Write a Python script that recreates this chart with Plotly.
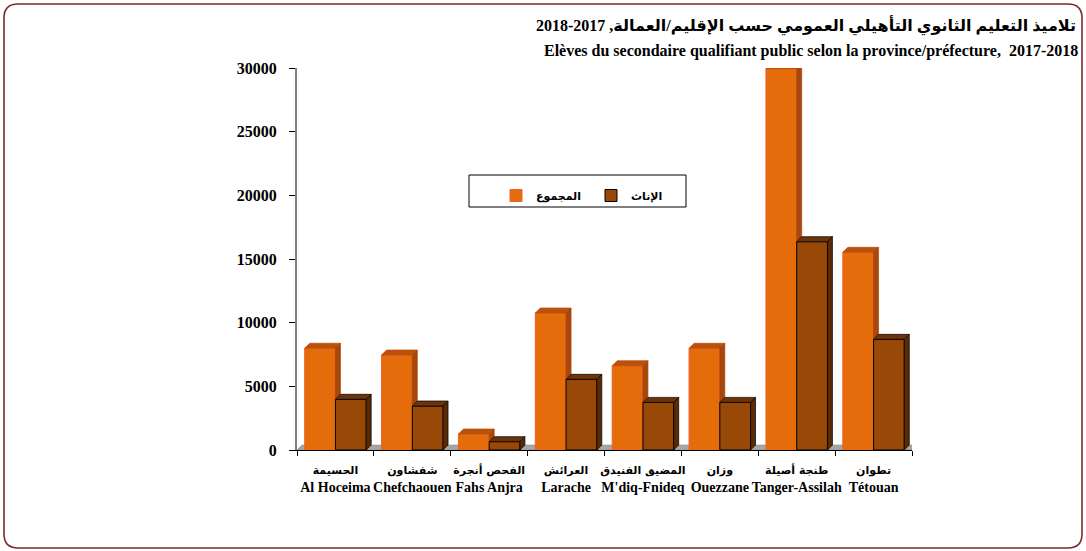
import plotly.graph_objects as go

# ---------------- data ----------------
categories_ar = ["الحسيمة", "شفشاون", "الفحص أنجرة", "العرائش", "المضيق الفنيدق", "وزان", "طنجة أصيلة", "تطوان"]
categories_fr = ["Al Hoceima", "Chefchaouen", "Fahs Anjra", "Larache", "M'diq-Fnideq", "Ouezzane", "Tanger-Assilah", "Tétouan"]
total_values = [7990, 7460, 1256, 10760, 6620, 7985, 29950, 15525]
female_values = [3980, 3455, 655, 5550, 3740, 3740, 16360, 8690]
series_names = ["المجموع", "الإناث"]
y_tick_values = [0, 5000, 10000, 15000, 20000, 25000, 30000]
title_ar = "\u202Bتلاميذ التعليم الثانوي التأهيلي العمومي حسب الإقليم/العمالة, 2017-2018\u202C"
title_fr = "Elèves du secondaire qualifiant public selon la province/préfecture,  2017-2018"

# ---------------- geometry (pixels) ----------------
W, H = 1086, 551
L, R, T, B = 297, 174, 68, 101
plot_w = W - L - R
plot_h = H - T - B
n = len(categories_fr)
y_max = 30000
x_lo, x_hi = -0.5, n - 0.5
cat_per_px = (x_hi - x_lo) / plot_w
val_per_px = y_max / plot_h
depth_px = 5
dx = depth_px * cat_per_px
dy = depth_px * val_per_px
bar_w = 0.4

idx = list(range(n))
ticktext = [f"<span style='font-family:DejaVu Sans;font-size:11px'>{a}</span><br>{f}"
            for a, f in zip(categories_ar, categories_fr)]

ORANGE = "#E46C0A"
ORANGE_TOP = "#B9520A"
ORANGE_SIDE = "#A5480A"
BROWN = "#984807"
BROWN_TOP = "#6E3306"
BROWN_SIDE = "#5A2A04"

fig = go.Figure()
fig.add_trace(go.Bar(x=idx, y=total_values, offset=-bar_w, width=bar_w, name=series_names[0],
                     marker=dict(color=ORANGE, line=dict(color="#F0602A", width=1))))
fig.add_trace(go.Bar(x=idx, y=female_values, offset=0, width=bar_w, name=series_names[1],
                     marker=dict(color=BROWN, line=dict(color="#000000", width=1))))


def faces(x0, x1, v, lower):
    top_x = [x0, x0 + dx, x1 + dx, x1, x0, None]
    top_y = [v, v + dy, v + dy, v, v, None]
    side_x = [x1, x1 + dx, x1 + dx, x1, x1, None]
    side_y = [lower[0], lower[1], v + dy, v, lower[0], None]
    return top_x, top_y, side_x, side_y


ot_x, ot_y, os_x, os_y = [], [], [], []
bt_x, bt_y, bs_x, bs_y = [], [], [], []
for i in idx:
    v, b = total_values[i], female_values[i]
    a = faces(i - bar_w, i, v, (b, b + dy))
    ot_x += a[0]; ot_y += a[1]
    if b < v:
        os_x += a[2]; os_y += a[3]
    c = faces(i, i + bar_w, b, (0, dy))
    bt_x += c[0]; bt_y += c[1]; bs_x += c[2]; bs_y += c[3]

for xs, ys, col, lc in [(ot_x, ot_y, ORANGE_TOP, "#C04A10"), (os_x, os_y, ORANGE_SIDE, "#B04010"),
                        (bt_x, bt_y, BROWN_TOP, "#000000"), (bs_x, bs_y, BROWN_SIDE, "#000000")]:
    fig.add_trace(go.Scatter(x=xs, y=ys, mode="lines", fill="toself", fillcolor=col,
                             line=dict(color=lc, width=0.7), showlegend=False, hoverinfo="skip"))

# floor
fig.add_shape(type="path", xref="x", yref="y", layer="below",
              path=f"M {x_lo},0 L {x_hi},0 L {x_hi + dx},{dy} L {x_lo + dx},{dy} Z",
              fillcolor="#A6A6A6", line=dict(color="#808080", width=0.5))


def px_x(p):
    return (p - L) / plot_w


def px_y(p):
    return (H - B - p) / plot_h


# chart frame with rounded corners
fx0, fy0, fx1, fy1, r = 4, 4, 1082, 548, 14
path = (f"M {px_x(fx0 + r)},{px_y(fy0)} L {px_x(fx1 - r)},{px_y(fy0)} "
        f"Q {px_x(fx1)},{px_y(fy0)} {px_x(fx1)},{px_y(fy0 + r)} "
        f"L {px_x(fx1)},{px_y(fy1 - r)} Q {px_x(fx1)},{px_y(fy1)} {px_x(fx1 - r)},{px_y(fy1)} "
        f"L {px_x(fx0 + r)},{px_y(fy1)} Q {px_x(fx0)},{px_y(fy1)} {px_x(fx0)},{px_y(fy1 - r)} "
        f"L {px_x(fx0)},{px_y(fy0 + r)} Q {px_x(fx0)},{px_y(fy0)} {px_x(fx0 + r)},{px_y(fy0)} Z")
fig.add_shape(type="path", xref="paper", yref="paper", path=path,
              line=dict(color="#7A2A2A", width=1.6), fillcolor="rgba(0,0,0,0)")

# legend box
fig.add_shape(type="rect", xref="paper", yref="paper",
              x0=px_x(469), x1=px_x(686), y0=px_y(207), y1=px_y(175),
              line=dict(color="#000000", width=1), fillcolor="white", layer="below")

fig.add_annotation(text=f"<b>{title_ar}</b>", xref="paper", yref="paper", x=px_x(1078), y=px_y(25),
                   xanchor="right", yanchor="middle", showarrow=False,
                   font=dict(family="Liberation Serif, DejaVu Sans", size=16, color="black"))
fig.add_annotation(text=f"<b>{title_fr}</b>", xref="paper", yref="paper", x=px_x(1080), y=px_y(51),
                   xanchor="right", yanchor="middle", showarrow=False,
                   font=dict(family="Liberation Serif", size=16, color="black"))

fig.update_layout(
    width=W, height=H, autosize=False,
    margin=dict(l=L, r=R, t=T, b=B),
    paper_bgcolor="white", plot_bgcolor="rgba(0,0,0,0)",
    barmode="overlay",
    showlegend=True,
    legend=dict(orientation="h", x=px_x(496), y=px_y(181), xanchor="left", yanchor="top",
                bgcolor="rgba(0,0,0,0)", borderwidth=0, entrywidth=50, entrywidthmode="pixels",
                itemwidth=30, font=dict(family="DejaVu Sans", size=11, color="black", weight="bold")),
    xaxis=dict(range=[x_lo, x_hi], tickvals=idx, ticktext=ticktext, ticks="", showgrid=False,
               tickangle=0, zeroline=False, showline=True, linecolor="#000000", linewidth=1,
               ticklabelstandoff=6,
               tickfont=dict(family="Liberation Serif", size=14, color="black", weight="bold"),
               minor=dict(tickvals=[k - 0.5 for k in range(n + 1)], ticks="outside", ticklen=5,
                          tickcolor="black", tickwidth=1, showgrid=False)),
    yaxis=dict(range=[0, y_max], tickvals=y_tick_values, tickformat="d", ticks="outside", ticklen=6,
               tickcolor="black", showgrid=False, zeroline=False, showline=True, linecolor="#808080",
               linewidth=2, ticklabelstandoff=9,
               tickfont=dict(family="Liberation Serif", size=16, color="black", weight="bold")),
)

fig.write_html("out.html", config={"displayModeBar": False},
               post_script="document.body.style.margin='0';document.body.style.overflow='hidden';")
